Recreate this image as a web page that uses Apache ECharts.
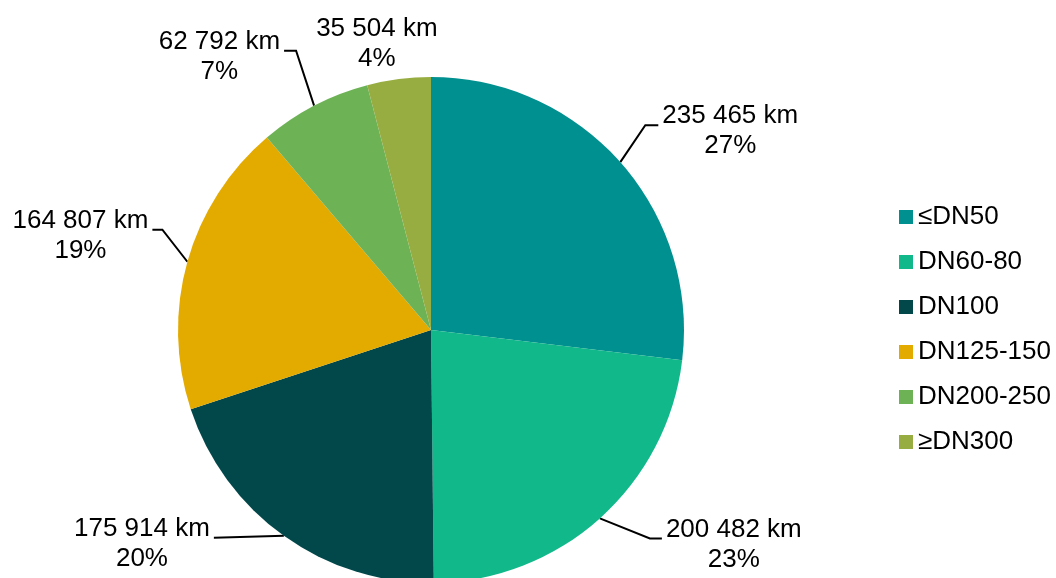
<!DOCTYPE html>
<html><head><meta charset="utf-8">
<script src="https://cdn.jsdelivr.net/npm/echarts@6/dist/echarts.min.js"></script>
<style>html,body{margin:0;padding:0;background:#fff}#c{width:1056px;height:578px}</style>
</head><body><div id="c"></div>
<script>
const categories = ['≤DN50', 'DN60-80', 'DN100', 'DN125-150', 'DN200-250', '≥DN300'];
const lengthsKm = [235465, 200482, 175914, 164807, 62792, 35504];
const colors = ['#00908F', '#11B98A', '#02484B', '#E3AA00', '#6DB356', '#97AD42'];
// label guide offsets, relative to the slice's outer-edge anchor point
const labelGuides = [
  {dx: 25, dy: -37, h: 13, side: 1},
  {dx: 50, dy: 20, h: 12, side: 1},
  {dx: -70, dy: 2, h: 0, side: -1},
  {dx: -25, dy: -32, h: 10, side: -1},
  {dx: -18, dy: -55, h: 12, side: -1},
  {dx: -22, dy: -35, h: 0, side: 0}
];
const FONT = '"Liberation Sans", Arial, sans-serif';
function fmt(n) { return String(n).replace(/\B(?=(\d{3})+(?!\d))/g, ' '); }

const chart = echarts.init(document.getElementById('c'), null, {renderer: 'canvas'});
chart.setOption({
  animation: false,
  color: colors,
  legend: {
    orient: 'vertical', left: 899, top: 204, padding: 0,
    itemWidth: 14, itemHeight: 14, itemGap: 19, icon: 'rect',
    textStyle: {fontFamily: FONT, fontSize: 26, color: '#000'},
    data: categories
  },
  series: [{
    type: 'pie',
    center: [431, 330],
    radius: 253,
    startAngle: 90,
    clockwise: true,
    percentPrecision: 0,
    avoidLabelOverlap: false,
    itemStyle: {borderWidth: 0},
    emphasis: {disabled: true},
    data: categories.map((c, i) => ({
      name: c, value: lengthsKm[i],
      labelLine: labelGuides[i].side === 0 ? {lineStyle: {opacity: 0}} : undefined
    })),
    label: {
      show: true, position: 'outside',
      formatter: p => fmt(p.value) + ' km\n' + p.percent + '%',
      fontFamily: FONT, fontSize: 26, lineHeight: 30, color: '#000', align: 'center'
    },
    labelLine: {show: true, length: 20, length2: 10, lineStyle: {color: '#000', width: 2}},
    labelLayout: function (p) {
      const g = labelGuides[p.dataIndex];
      const pts = p.labelLinePoints;
      const e = pts[0];
      const w = p.labelRect.width;
      if (g.side === 0) {
        return {x: e[0] + g.dx, y: e[1] + g.dy, align: 'center', verticalAlign: 'middle',
                labelLinePoints: [e, e, e]};
      }
      const b = [e[0] + g.dx, e[1] + g.dy];
      const h = [b[0] + g.side * g.h, b[1]];
      return {x: h[0] + g.side * (4 + w / 2), y: b[1] + 6, align: 'center', verticalAlign: 'middle',
              labelLinePoints: [e, b, h]};
    }
  }]
});
</script></body></html>
